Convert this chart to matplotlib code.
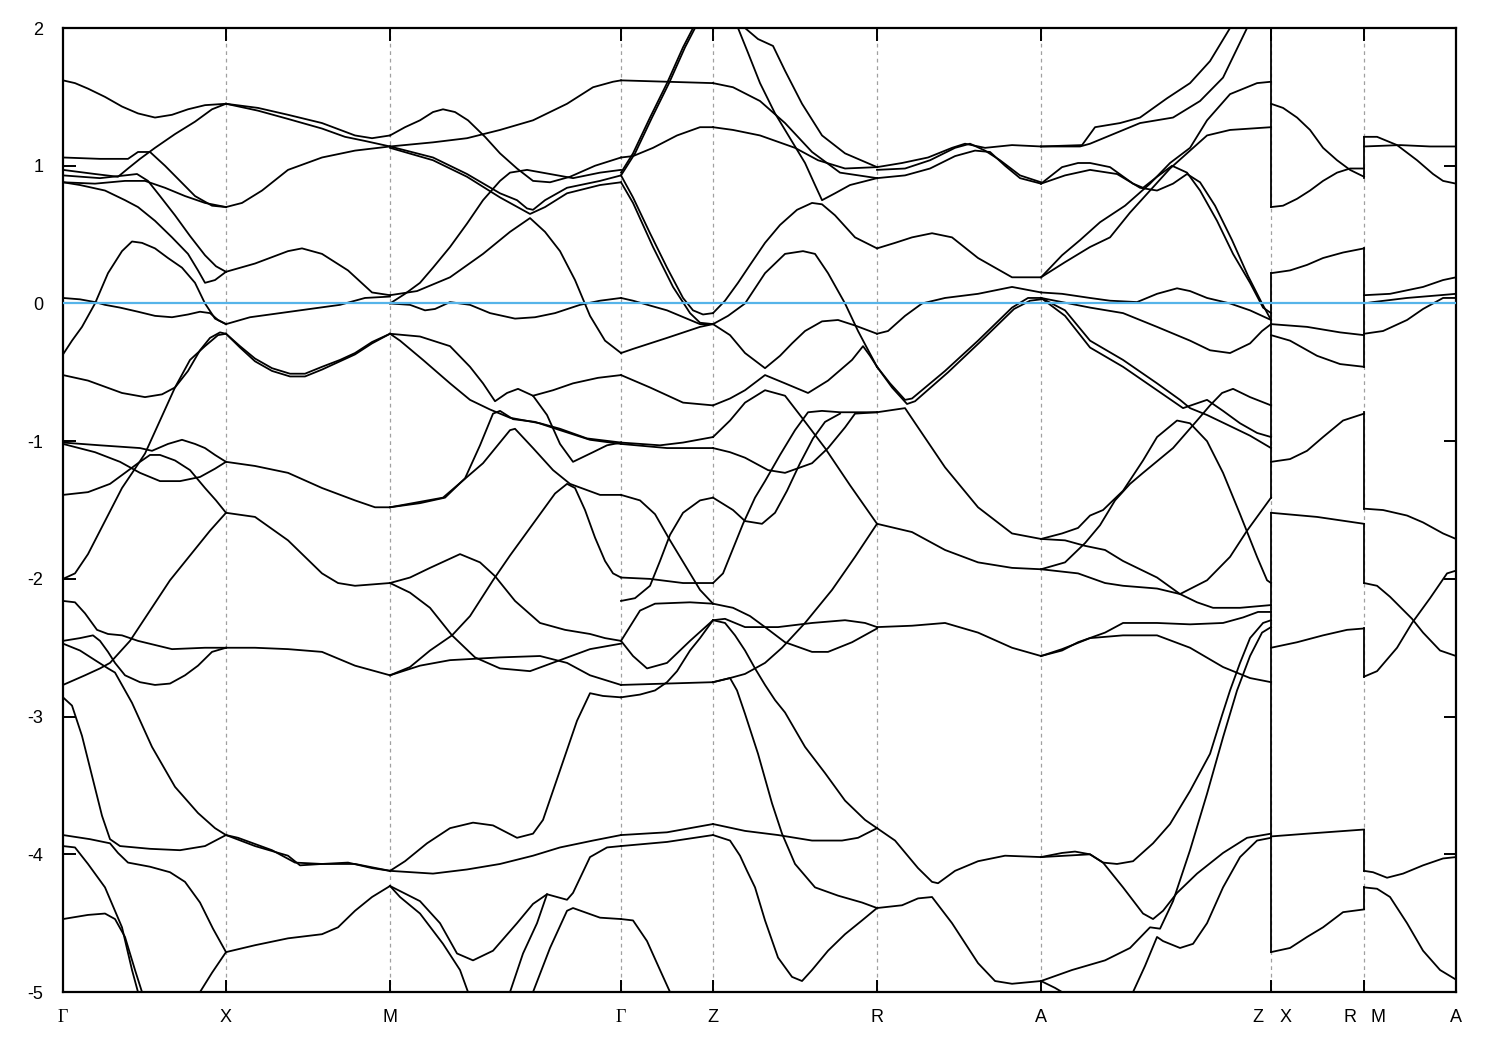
import matplotlib.pyplot as plt
from matplotlib.transforms import blended_transform_factory

# high-symmetry points along the path (path coordinate)
kpts = [0, 163, 327, 558, 650, 814, 978, 1208, 1301, 1393]
yticks = [-5, -4, -3, -2, -1, 0, 1, 2]

# bands, segment by segment, as (k, E[eV]) pairs
seg_GX = [
    [(0, 1.62), (12, 1.60), (25, 1.56), (42, 1.50), (59, 1.43), (75, 1.38), (92, 1.35), (109, 1.37), (125, 1.41), (142, 1.44), (163, 1.45)],
    [(0, 1.06), (37, 1.05), (65, 1.05), (75, 1.10), (87, 1.10), (102, 1.00), (117, 0.89), (132, 0.78), (149, 0.71), (163, 0.70)],
    [(0, 0.97), (32, 0.94), (55, 0.92), (65, 0.98), (77, 1.05), (92, 1.13), (112, 1.23), (132, 1.32), (149, 1.41), (163, 1.45)],
    [(0, 0.88), (32, 0.87), (62, 0.89), (82, 0.89), (102, 0.84), (122, 0.78), (142, 0.73), (163, 0.70)],
    [(0, 0.93), (37, 0.91), (62, 0.93), (74, 0.94), (85, 0.89), (97, 0.78), (112, 0.64), (127, 0.49), (142, 0.35), (153, 0.27), (163, 0.23)],
    [(0, 0.88), (17, 0.86), (42, 0.82), (62, 0.75), (75, 0.70), (92, 0.60), (109, 0.48), (125, 0.36), (135, 0.24), (142, 0.15), (152, 0.17), (163, 0.23)],
    [(0, 0.04), (17, 0.03), (32, 0.01), (42, -0.01), (57, -0.03), (75, -0.06), (92, -0.09), (109, -0.10), (125, -0.08), (137, -0.06), (147, -0.07), (155, -0.12), (163, -0.15)],
    [(0, -0.37), (9, -0.27), (19, -0.17), (32, 0.0), (45, 0.22), (59, 0.38), (69, 0.45), (79, 0.44), (92, 0.40), (105, 0.33), (119, 0.26), (132, 0.15), (142, 0.0), (152, -0.11), (163, -0.15)],
    [(0, -0.52), (25, -0.56), (59, -0.65), (82, -0.68), (99, -0.66), (112, -0.61), (125, -0.49), (137, -0.34), (147, -0.25), (157, -0.21), (163, -0.22)],
    [(0, -2.0), (12, -1.96), (25, -1.82), (42, -1.58), (59, -1.34), (72, -1.20), (82, -1.09), (97, -0.85), (112, -0.61), (127, -0.41), (142, -0.31), (155, -0.23), (163, -0.22)],
    [(0, -1.01), (37, -1.03), (77, -1.05), (89, -1.07), (105, -1.02), (119, -0.99), (132, -1.02), (142, -1.05), (152, -1.10), (163, -1.15)],
    [(0, -1.02), (32, -1.08), (57, -1.15), (77, -1.23), (97, -1.29), (117, -1.29), (137, -1.26), (152, -1.20), (163, -1.15)],
    [(0, -1.39), (25, -1.37), (47, -1.31), (62, -1.23), (75, -1.16), (87, -1.10), (97, -1.10), (112, -1.14), (127, -1.21), (142, -1.34), (153, -1.43), (163, -1.52)],
    [(0, -2.77), (22, -2.70), (37, -2.65), (47, -2.61), (67, -2.45), (87, -2.23), (107, -2.01), (127, -1.83), (147, -1.65), (163, -1.52)],
    [(0, -2.16), (12, -2.17), (22, -2.25), (34, -2.37), (45, -2.40), (59, -2.41), (75, -2.45), (92, -2.48), (109, -2.51), (142, -2.50), (163, -2.50)],
    [(0, -2.45), (17, -2.43), (30, -2.41), (37, -2.45), (45, -2.53), (52, -2.61), (62, -2.70), (77, -2.75), (92, -2.77), (107, -2.76), (122, -2.70), (135, -2.63), (149, -2.53), (163, -2.50)],
    [(0, -2.47), (17, -2.52), (32, -2.59), (45, -2.65), (52, -2.68), (69, -2.90), (89, -3.22), (112, -3.51), (135, -3.70), (152, -3.81), (163, -3.86)],
    [(0, -2.86), (9, -2.92), (19, -3.14), (29, -3.43), (39, -3.72), (47, -3.89), (57, -3.94), (87, -3.96), (117, -3.97), (142, -3.94), (163, -3.86)],
    [(0, -3.86), (27, -3.89), (47, -3.92), (55, -3.99), (65, -4.06), (87, -4.09), (107, -4.13), (122, -4.20), (137, -4.35), (150, -4.54), (163, -4.71)],
    [(0, -3.94), (12, -3.95), (25, -4.07), (42, -4.24), (59, -4.53), (69, -4.84), (75, -5.0), (78, -5.13)],
    [(0, -4.47), (25, -4.44), (42, -4.43), (52, -4.47), (62, -4.60), (72, -4.84), (79, -5.0), (82, -5.13)],
    [(130, -5.1), (137, -5.0), (149, -4.86), (163, -4.71)],
]

seg_XM = [
    [(163, 1.45), (195, 1.42), (225, 1.37), (259, 1.31), (292, 1.22), (309, 1.20), (327, 1.22)],
    [(163, 1.45), (195, 1.40), (225, 1.34), (259, 1.27), (282, 1.21), (302, 1.18), (327, 1.14)],
    [(163, 0.70), (179, 0.73), (199, 0.82), (225, 0.97), (259, 1.06), (292, 1.11), (327, 1.14)],
    [(163, 0.23), (192, 0.29), (225, 0.38), (239, 0.40), (259, 0.36), (285, 0.24), (309, 0.08), (327, 0.06)],
    [(163, -0.15), (187, -0.10), (217, -0.07), (247, -0.04), (277, -0.01), (302, 0.04), (327, 0.05)],
    [(163, -0.22), (177, -0.31), (192, -0.40), (209, -0.47), (227, -0.51), (242, -0.51), (259, -0.46), (277, -0.41), (292, -0.36), (309, -0.28), (327, -0.22)],
    [(163, -0.22), (177, -0.32), (192, -0.42), (209, -0.49), (227, -0.53), (242, -0.53), (259, -0.48), (277, -0.42), (292, -0.37), (309, -0.29), (327, -0.22)],
    [(163, -1.15), (192, -1.18), (225, -1.23), (259, -1.34), (292, -1.43), (312, -1.48), (327, -1.48)],
    [(163, -1.52), (192, -1.55), (225, -1.72), (259, -1.96), (275, -2.03), (292, -2.05), (327, -2.03)],
    [(163, -2.50), (192, -2.50), (225, -2.51), (259, -2.53), (292, -2.63), (327, -2.70)],
    [(163, -3.86), (175, -3.88), (209, -3.97), (232, -4.06), (259, -4.07), (285, -4.06), (309, -4.10), (327, -4.12)],
    [(163, -3.86), (192, -3.94), (225, -4.01), (237, -4.08), (259, -4.07), (292, -4.07), (327, -4.12)],
    [(163, -4.71), (192, -4.66), (225, -4.61), (259, -4.58), (275, -4.53), (292, -4.41), (309, -4.31), (327, -4.23)],
]

seg_MG = [
    [(327, 1.22), (342, 1.28), (357, 1.33), (370, 1.39), (380, 1.41), (392, 1.39), (405, 1.33), (422, 1.21), (437, 1.09), (454, 0.98), (470, 0.89), (487, 0.88), (507, 0.92), (532, 1.00), (558, 1.06)],
    [(327, 1.14), (370, 1.17), (404, 1.20), (437, 1.26), (470, 1.33), (504, 1.45), (530, 1.57), (550, 1.61), (558, 1.62)],
    [(327, 1.14), (370, 1.06), (404, 0.94), (437, 0.80), (454, 0.75), (464, 0.69), (470, 0.68), (482, 0.75), (504, 0.84), (537, 0.89), (558, 0.93)],
    [(327, 1.13), (370, 1.04), (404, 0.92), (437, 0.77), (457, 0.69), (467, 0.65), (482, 0.70), (504, 0.80), (537, 0.86), (558, 0.88)],
    [(327, 0.0), (342, 0.07), (357, 0.15), (370, 0.26), (387, 0.41), (404, 0.58), (420, 0.75), (437, 0.89), (447, 0.95), (464, 0.97), (487, 0.94), (510, 0.91), (537, 0.95), (558, 0.97)],
    [(327, 0.06), (354, 0.09), (387, 0.19), (420, 0.36), (447, 0.52), (467, 0.62), (482, 0.52), (497, 0.38), (512, 0.17), (527, -0.09), (542, -0.27), (558, -0.36)],
    [(327, 0.0), (347, -0.01), (362, -0.05), (372, -0.04), (387, 0.01), (407, -0.01), (427, -0.07), (452, -0.11), (472, -0.10), (492, -0.07), (517, -0.01), (537, 0.02), (558, 0.04)],
    [(327, -0.22), (337, -0.27), (360, -0.41), (387, -0.58), (407, -0.70), (427, -0.77), (447, -0.83), (477, -0.87), (497, -0.91), (524, -0.98), (558, -1.01)],
    [(327, -0.22), (357, -0.24), (387, -0.31), (407, -0.46), (420, -0.58), (432, -0.71), (444, -0.65), (455, -0.62), (470, -0.67), (484, -0.81), (497, -1.02), (510, -1.15), (530, -1.08), (544, -1.03), (558, -1.01)],
    [(470, -0.67), (490, -0.63), (510, -0.58), (535, -0.54), (558, -0.52)],
    [(327, -1.48), (357, -1.45), (382, -1.41), (402, -1.27), (417, -1.03), (430, -0.80), (437, -0.78), (450, -0.84), (472, -0.86), (497, -0.92), (527, -0.99), (558, -1.02)],
    [(327, -1.48), (380, -1.41), (420, -1.16), (447, -0.92), (452, -0.91), (470, -1.05), (490, -1.21), (507, -1.31), (537, -1.39), (558, -1.39)],
    [(327, -2.70), (347, -2.64), (367, -2.52), (389, -2.41), (407, -2.27), (430, -2.01), (447, -1.83), (472, -1.58), (492, -1.38), (504, -1.31), (512, -1.34), (522, -1.50), (532, -1.70), (542, -1.87), (550, -1.96), (558, -1.99)],
    [(327, -2.03), (347, -1.99), (367, -1.92), (397, -1.82), (417, -1.88), (432, -1.98), (452, -2.16), (477, -2.32), (502, -2.37), (527, -2.40), (542, -2.43), (558, -2.45)],
    [(327, -2.03), (347, -2.10), (367, -2.21), (389, -2.41), (412, -2.57), (437, -2.65), (467, -2.67), (497, -2.59), (527, -2.51), (558, -2.47)],
    [(327, -2.70), (357, -2.63), (387, -2.59), (437, -2.57), (477, -2.56), (504, -2.61), (527, -2.70), (558, -2.77)],
    [(327, -4.12), (370, -4.14), (404, -4.11), (437, -4.07), (470, -4.01), (497, -3.95), (530, -3.90), (558, -3.86)],
    [(327, -4.12), (342, -4.05), (364, -3.92), (387, -3.81), (410, -3.77), (430, -3.79), (454, -3.88), (470, -3.85), (480, -3.75), (497, -3.39), (514, -3.03), (527, -2.83), (540, -2.85), (558, -2.86)],
    [(327, -4.23), (357, -4.34), (377, -4.50), (394, -4.72), (410, -4.77), (430, -4.70), (454, -4.50), (470, -4.36), (484, -4.29), (504, -4.33), (510, -4.28), (527, -4.02), (544, -3.95), (558, -3.94)],
    [(327, -4.23), (337, -4.31), (357, -4.43), (380, -4.65), (397, -4.84), (405, -5.0), (409, -5.13)],
    [(442, -5.1), (447, -5.0), (460, -4.72), (474, -4.50), (484, -4.29)],
    [(467, -5.1), (470, -5.0), (487, -4.68), (504, -4.41), (510, -4.39), (537, -4.46), (558, -4.47)],
]

seg_GZ = [
    [(558, 1.62), (604, 1.61), (650, 1.60)],
    [(558, 0.95), (570, 1.09), (587, 1.35), (604, 1.60), (620, 1.86), (630, 2.0), (634, 2.07)],
    [(558, 0.93), (572, 1.09), (589, 1.35), (606, 1.60), (622, 1.86), (632, 2.0), (637, 2.07)],
    [(558, 1.06), (570, 1.07), (590, 1.13), (614, 1.22), (637, 1.28), (650, 1.28)],
    [(558, 0.93), (570, 0.77), (587, 0.51), (604, 0.26), (620, 0.04), (630, -0.05), (640, -0.08), (650, -0.07)],
    [(558, 0.88), (570, 0.73), (590, 0.41), (610, 0.12), (627, -0.07), (637, -0.14), (650, -0.15)],
    [(558, 0.04), (570, 0.02), (604, -0.05), (637, -0.15), (650, -0.15)],
    [(558, -0.36), (570, -0.33), (604, -0.25), (637, -0.17), (650, -0.15)],
    [(558, -0.52), (587, -0.61), (620, -0.72), (650, -0.74)],
    [(558, -1.01), (597, -1.03), (620, -1.01), (650, -0.97)],
    [(558, -1.02), (604, -1.05), (650, -1.05)],
    [(558, -1.99), (587, -2.0), (620, -2.03), (650, -2.03)],
    [(558, -2.16), (572, -2.14), (587, -2.05), (597, -1.87), (607, -1.68), (620, -1.52), (637, -1.43), (650, -1.41)],
    [(558, -1.39), (577, -1.43), (592, -1.53), (607, -1.72), (622, -1.90), (637, -2.08), (650, -2.18)],
    [(558, -2.45), (570, -2.56), (584, -2.65), (604, -2.61), (627, -2.45), (650, -2.30)],
    [(558, -2.45), (577, -2.23), (592, -2.18), (627, -2.17), (650, -2.18)],
    [(558, -2.86), (577, -2.84), (592, -2.81), (604, -2.75), (614, -2.67), (627, -2.52), (637, -2.43), (650, -2.30)],
    [(558, -2.77), (604, -2.76), (650, -2.75)],
    [(558, -3.86), (604, -3.84), (650, -3.78)],
    [(558, -3.94), (604, -3.91), (650, -3.86)],
    [(558, -4.47), (570, -4.48), (584, -4.63), (597, -4.84), (607, -5.0), (612, -5.13)],
]

seg_ZR = [
    [(650, 1.60), (670, 1.57), (697, 1.47), (722, 1.31), (749, 1.10), (777, 0.95), (814, 0.91)],
    [(650, 1.28), (670, 1.26), (697, 1.22), (732, 1.13), (755, 1.04), (782, 0.98), (814, 0.99)],
    [(670, 2.07), (675, 2.0), (685, 1.82), (697, 1.60), (712, 1.38), (727, 1.20), (742, 1.02), (752, 0.86), (759, 0.75), (772, 0.80), (787, 0.86), (814, 0.91)],
    [(675, 2.04), (682, 2.0), (695, 1.92), (710, 1.87), (722, 1.69), (739, 1.45), (759, 1.22), (782, 1.09), (814, 0.99)],
    [(650, -0.07), (662, 0.02), (675, 0.15), (687, 0.28), (702, 0.44), (717, 0.57), (734, 0.68), (749, 0.73), (759, 0.72), (772, 0.64), (792, 0.48), (814, 0.40)],
    [(650, -0.15), (665, -0.09), (682, 0.0), (702, 0.22), (722, 0.36), (740, 0.38), (752, 0.36), (765, 0.22), (782, 0.0), (795, -0.20), (803, -0.31), (814, -0.46)],
    [(650, -0.15), (667, -0.23), (682, -0.36), (702, -0.47), (717, -0.38), (729, -0.29), (742, -0.20), (759, -0.13), (775, -0.12), (792, -0.16), (814, -0.22)],
    [(650, -0.74), (667, -0.69), (682, -0.63), (702, -0.52), (722, -0.58), (745, -0.65), (765, -0.56), (789, -0.41), (800, -0.31), (807, -0.38), (814, -0.46)],
    [(650, -0.97), (667, -0.85), (682, -0.72), (702, -0.63), (722, -0.67), (739, -0.83), (762, -1.05), (787, -1.32), (814, -1.60)],
    [(650, -1.05), (667, -1.08), (682, -1.12), (705, -1.21), (722, -1.23), (749, -1.16), (765, -1.05), (782, -0.90), (792, -0.80), (814, -0.79)],
    [(650, -2.03), (660, -1.96), (670, -1.78), (680, -1.60), (692, -1.41), (702, -1.29), (717, -1.10), (732, -0.92), (745, -0.79), (759, -0.78), (777, -0.79), (814, -0.79)],
    [(650, -1.41), (670, -1.50), (682, -1.58), (699, -1.60), (712, -1.52), (724, -1.36), (737, -1.16), (750, -0.98), (762, -0.86), (777, -0.80)],
    [(650, -2.75), (667, -2.72), (682, -2.69), (702, -2.61), (719, -2.50), (742, -2.32), (769, -2.08), (792, -1.84), (814, -1.60)],
    [(650, -2.30), (662, -2.29), (682, -2.35), (715, -2.35), (749, -2.32), (782, -2.30), (802, -2.32), (814, -2.35)],
    [(650, -2.18), (670, -2.21), (687, -2.27), (702, -2.35), (722, -2.46), (749, -2.53), (765, -2.53), (789, -2.46), (814, -2.36)],
    [(650, -2.30), (662, -2.32), (672, -2.41), (682, -2.52), (692, -2.65), (702, -2.77), (712, -2.88), (722, -2.97), (742, -3.22), (762, -3.41), (782, -3.61), (802, -3.75), (814, -3.81)],
    [(650, -2.75), (667, -2.72), (674, -2.81), (682, -2.98), (695, -3.27), (709, -3.63), (719, -3.85), (732, -4.07), (752, -4.24), (775, -4.30), (799, -4.35), (814, -4.39)],
    [(650, -3.86), (667, -3.90), (677, -4.01), (684, -4.12), (692, -4.24), (702, -4.48), (715, -4.75), (729, -4.89), (739, -4.92), (749, -4.84), (765, -4.70), (782, -4.58), (799, -4.48), (814, -4.39)],
    [(650, -3.78), (682, -3.83), (715, -3.86), (749, -3.90), (779, -3.90), (795, -3.88), (814, -3.81)],
]

seg_RA = [
    [(814, 0.99), (839, 1.02), (865, 1.06), (889, 1.13), (902, 1.16), (922, 1.13), (949, 1.15), (978, 1.14)],
    [(814, 0.91), (842, 0.93), (867, 0.98), (892, 1.07), (912, 1.11), (927, 1.10), (942, 1.00), (957, 0.91), (978, 0.87)],
    [(814, 0.97), (842, 0.98), (867, 1.04), (892, 1.13), (907, 1.16), (922, 1.11), (937, 1.04), (957, 0.93), (978, 0.88)],
    [(814, 0.40), (832, 0.44), (849, 0.48), (869, 0.51), (889, 0.48), (915, 0.33), (949, 0.19), (978, 0.19)],
    [(814, -0.22), (825, -0.20), (842, -0.09), (859, 0.0), (882, 0.04), (915, 0.07), (949, 0.12), (978, 0.08)],
    [(814, -0.46), (827, -0.58), (842, -0.70), (849, -0.69), (882, -0.49), (915, -0.27), (949, -0.03), (965, 0.04), (978, 0.04)],
    [(814, -0.46), (829, -0.61), (844, -0.73), (852, -0.71), (885, -0.50), (917, -0.28), (951, -0.04), (967, 0.02), (978, 0.03)],
    [(814, -0.79), (842, -0.76), (855, -0.90), (882, -1.19), (915, -1.48), (949, -1.67), (978, -1.71)],
    [(814, -1.60), (849, -1.66), (882, -1.79), (915, -1.88), (949, -1.92), (978, -1.93)],
    [(814, -2.35), (849, -2.34), (882, -2.32), (915, -2.39), (949, -2.50), (978, -2.56)],
    [(814, -3.81), (832, -3.90), (855, -4.10), (869, -4.20), (875, -4.21), (892, -4.12), (915, -4.05), (942, -4.01), (978, -4.02)],
    [(814, -4.39), (839, -4.37), (855, -4.32), (869, -4.31), (889, -4.50), (915, -4.79), (932, -4.92), (949, -4.94), (978, -4.92)],
]

seg_AZ = [
    [(978, 1.14), (1019, 1.15), (1032, 1.28), (1057, 1.31), (1077, 1.35), (1104, 1.49), (1127, 1.60), (1147, 1.76), (1167, 2.0), (1173, 2.07)],
    [(978, 1.14), (1017, 1.14), (1027, 1.16), (1047, 1.22), (1077, 1.31), (1110, 1.35), (1137, 1.47), (1160, 1.64), (1184, 2.0), (1189, 2.07)],
    [(978, 0.19), (999, 0.35), (1017, 0.46), (1037, 0.59), (1062, 0.71), (1087, 0.87), (1107, 1.02), (1127, 1.13), (1144, 1.33), (1167, 1.52), (1194, 1.60), (1208, 1.61)],
    [(978, 0.19), (1002, 0.30), (1027, 0.41), (1047, 0.48), (1067, 0.66), (1087, 0.82), (1107, 0.98), (1127, 1.11), (1144, 1.22), (1167, 1.26), (1208, 1.28)],
    [(978, 0.87), (999, 0.99), (1015, 1.02), (1027, 1.02), (1047, 0.99), (1070, 0.87), (1080, 0.84), (1094, 0.92), (1109, 1.00), (1124, 0.95), (1137, 0.82), (1154, 0.60), (1170, 0.36), (1187, 0.15), (1200, -0.03), (1208, -0.07)],
    [(978, 0.87), (1002, 0.93), (1027, 0.97), (1054, 0.94), (1077, 0.84), (1094, 0.82), (1110, 0.87), (1124, 0.94), (1137, 0.88), (1152, 0.71), (1169, 0.46), (1185, 0.20), (1199, 0.0), (1208, -0.12)],
    [(978, 0.08), (999, 0.07), (1027, 0.04), (1047, 0.02), (1074, 0.01), (1094, 0.07), (1114, 0.11), (1127, 0.09), (1144, 0.04), (1167, 0.0), (1187, -0.05), (1208, -0.12)],
    [(978, 0.04), (1027, -0.03), (1060, -0.07), (1094, -0.17), (1127, -0.27), (1147, -0.34), (1167, -0.36), (1187, -0.29), (1199, -0.20), (1208, -0.15)],
    [(978, 0.04), (1002, -0.05), (1027, -0.27), (1060, -0.41), (1094, -0.58), (1117, -0.70), (1127, -0.76), (1144, -0.81), (1167, -0.89), (1187, -0.96), (1208, -1.05)],
    [(978, 0.04), (1002, -0.09), (1027, -0.32), (1060, -0.46), (1094, -0.63), (1120, -0.76), (1144, -0.70), (1160, -0.78), (1177, -0.87), (1194, -0.94), (1208, -0.97)],
    [(978, -1.71), (999, -1.67), (1015, -1.63), (1027, -1.54), (1040, -1.50), (1060, -1.36), (1080, -1.14), (1094, -0.97), (1114, -0.85), (1127, -0.87), (1144, -1.0), (1160, -1.23), (1177, -1.53), (1194, -1.84), (1204, -2.01), (1208, -2.03)],
    [(978, -1.93), (1002, -1.88), (1022, -1.74), (1037, -1.61), (1052, -1.43), (1067, -1.31), (1080, -1.23), (1110, -1.05), (1134, -0.85), (1147, -0.74), (1159, -0.65), (1170, -0.62), (1187, -0.68), (1208, -0.74)],
    [(978, -1.71), (1002, -1.72), (1022, -1.76), (1042, -1.79), (1060, -1.87), (1094, -1.99), (1117, -2.11), (1144, -2.01), (1167, -1.84), (1184, -1.65), (1208, -1.41)],
    [(978, -1.93), (1015, -1.96), (1042, -2.03), (1060, -2.05), (1094, -2.07), (1117, -2.11), (1134, -2.17), (1150, -2.21), (1177, -2.21), (1208, -2.19)],
    [(978, -2.56), (999, -2.52), (1015, -2.46), (1042, -2.39), (1060, -2.32), (1094, -2.32), (1127, -2.33), (1160, -2.32), (1180, -2.28), (1195, -2.24), (1208, -2.24)],
    [(978, -2.56), (999, -2.51), (1027, -2.43), (1060, -2.41), (1094, -2.41), (1127, -2.50), (1160, -2.64), (1187, -2.72), (1208, -2.75)],
    [(978, -4.02), (999, -3.99), (1012, -3.98), (1027, -4.00), (1040, -4.06), (1060, -4.24), (1080, -4.43), (1090, -4.47), (1100, -4.41), (1114, -4.28), (1134, -4.14), (1160, -3.99), (1184, -3.88), (1208, -3.85)],
    [(978, -4.02), (1027, -4.00), (1040, -4.06), (1054, -4.07), (1070, -4.05), (1090, -3.92), (1107, -3.78), (1127, -3.54), (1147, -3.27), (1159, -2.99), (1167, -2.81), (1177, -2.61), (1187, -2.43), (1200, -2.32), (1208, -2.30)],
    [(978, -4.92), (1009, -4.84), (1042, -4.77), (1067, -4.68), (1087, -4.53), (1097, -4.54), (1110, -4.34), (1127, -3.97), (1144, -3.56), (1160, -3.15), (1174, -2.81), (1187, -2.56), (1199, -2.39), (1208, -2.35)],
    [(1065, -5.10), (1070, -5.0), (1082, -4.81), (1094, -4.60), (1100, -4.63), (1117, -4.68), (1130, -4.65), (1144, -4.50), (1160, -4.24), (1177, -4.02), (1194, -3.90), (1208, -3.88)],
    [(978, -4.92), (992, -4.97), (999, -5.0), (1007, -5.09)],
]

seg_XR = [
    [(1208, 1.45), (1220, 1.42), (1234, 1.35), (1247, 1.26), (1260, 1.13), (1274, 1.04), (1287, 0.97), (1301, 0.92)],
    [(1208, 0.70), (1220, 0.71), (1234, 0.76), (1247, 0.82), (1260, 0.89), (1274, 0.95), (1287, 0.98), (1301, 0.98)],
    [(1208, 0.22), (1227, 0.24), (1244, 0.28), (1260, 0.33), (1280, 0.37), (1301, 0.40)],
    [(1208, -0.15), (1244, -0.17), (1277, -0.21), (1301, -0.23)],
    [(1208, -0.23), (1227, -0.27), (1254, -0.38), (1277, -0.44), (1301, -0.46)],
    [(1208, -1.15), (1227, -1.13), (1244, -1.07), (1260, -0.97), (1280, -0.85), (1301, -0.80)],
    [(1208, -1.52), (1254, -1.55), (1301, -1.60)],
    [(1208, -2.50), (1234, -2.46), (1260, -2.41), (1284, -2.37), (1301, -2.36)],
    [(1208, -3.87), (1244, -3.85), (1301, -3.82)],
    [(1208, -4.71), (1227, -4.68), (1244, -4.60), (1260, -4.53), (1280, -4.42), (1301, -4.40)],
]

seg_MA = [
    [(1301, 1.21), (1314, 1.21), (1334, 1.15), (1354, 1.04), (1370, 0.94), (1380, 0.89), (1393, 0.87)],
    [(1301, 1.14), (1337, 1.15), (1367, 1.14), (1393, 1.14)],
    [(1301, 0.06), (1327, 0.07), (1360, 0.12), (1380, 0.17), (1393, 0.19)],
    [(1301, 0.0), (1310, 0.01), (1344, 0.04), (1377, 0.06), (1393, 0.07)],
    [(1301, -0.22), (1320, -0.20), (1344, -0.12), (1360, -0.04), (1380, 0.04), (1393, 0.04)],
    [(1301, -1.49), (1320, -1.50), (1344, -1.54), (1360, -1.59), (1380, -1.67), (1393, -1.71)],
    [(1301, -2.03), (1314, -2.05), (1327, -2.13), (1349, -2.29), (1360, -2.39), (1377, -2.52), (1393, -2.56)],
    [(1301, -2.71), (1314, -2.67), (1334, -2.50), (1349, -2.32), (1367, -2.14), (1384, -1.96), (1393, -1.94)],
    [(1301, -4.12), (1310, -4.13), (1324, -4.17), (1340, -4.14), (1360, -4.08), (1380, -4.03), (1393, -4.02)],
    [(1301, -4.24), (1314, -4.25), (1327, -4.31), (1344, -4.50), (1360, -4.70), (1377, -4.84), (1393, -4.91)],
]

# band continuity across the path breaks (energy spans joined by the plotting)
jumps_ZX = [(2.1, 0.70), (0.22, -1.41), (-1.52, -4.71)]
jumps_RM = [(1.21, 0.91), (0.40, -0.46), (-0.79, -1.49), (-1.60, -2.03), (-2.36, -2.71), (-3.82, -4.12), (-4.24, -4.40)]

fig = plt.figure(figsize=(15, 10.5), dpi=100)
ax = fig.add_axes([0.042, 0.0552, 0.9287, 0.9181])

for k in kpts[1:-1]:
    ax.axvline(k, color='#a0a0a0', lw=0.9, ls=(0, (3, 3)), zorder=0)

for seg in (seg_GX, seg_XM, seg_MG, seg_GZ, seg_ZR, seg_RA, seg_AZ, seg_XR, seg_MA):
    for band in seg:
        ks = [p[0] for p in band]
        es = [p[1] for p in band]
        ax.plot(ks, es, color='black', lw=1.3, solid_joinstyle='round', zorder=2)

for top, bot in jumps_ZX:
    ax.plot([kpts[7], kpts[7]], [top, bot], color='black', lw=1.3, zorder=2)
for top, bot in jumps_RM:
    ax.plot([kpts[8], kpts[8]], [top, bot], color='black', lw=1.3, zorder=2)

ax.axhline(0, color='#56B4E9', lw=1.6, zorder=3)

ax.set_xlim(kpts[0], kpts[-1])
ax.set_ylim(-5, 2)
ax.set_yticks(yticks)
ax.set_yticklabels([str(v) for v in yticks], fontsize=13, family='Liberation Sans')
ax.set_xticks(kpts)
ax.set_xticklabels([''] * len(kpts))
ax.tick_params(axis='both', direction='in', length=9, width=1.4, top=True, right=True)
ax.tick_params(axis='y', pad=14)
for s in ax.spines.values():
    s.set_linewidth(1.6)

# path labels
trans = blended_transform_factory(ax.transData, ax.transAxes)
labels = [(kpts[0], 'Γ'), (kpts[1], 'X'), (kpts[2], 'M'), (kpts[3], 'Γ'), (kpts[4], 'Z'),
          (kpts[5], 'R'), (kpts[6], 'A'), (kpts[7] - 13, 'Z'), (kpts[7] + 15, 'X'),
          (kpts[8] - 14, 'R'), (kpts[8] + 14, 'M'), (kpts[9], 'A')]
for k, t in labels:
    fam = 'Liberation Serif' if t == 'Γ' else 'Liberation Sans'
    ax.text(k, -0.018, t, transform=trans, ha='center', va='top', fontsize=13, family=fam)

fig.savefig('out.png', dpi=100)
